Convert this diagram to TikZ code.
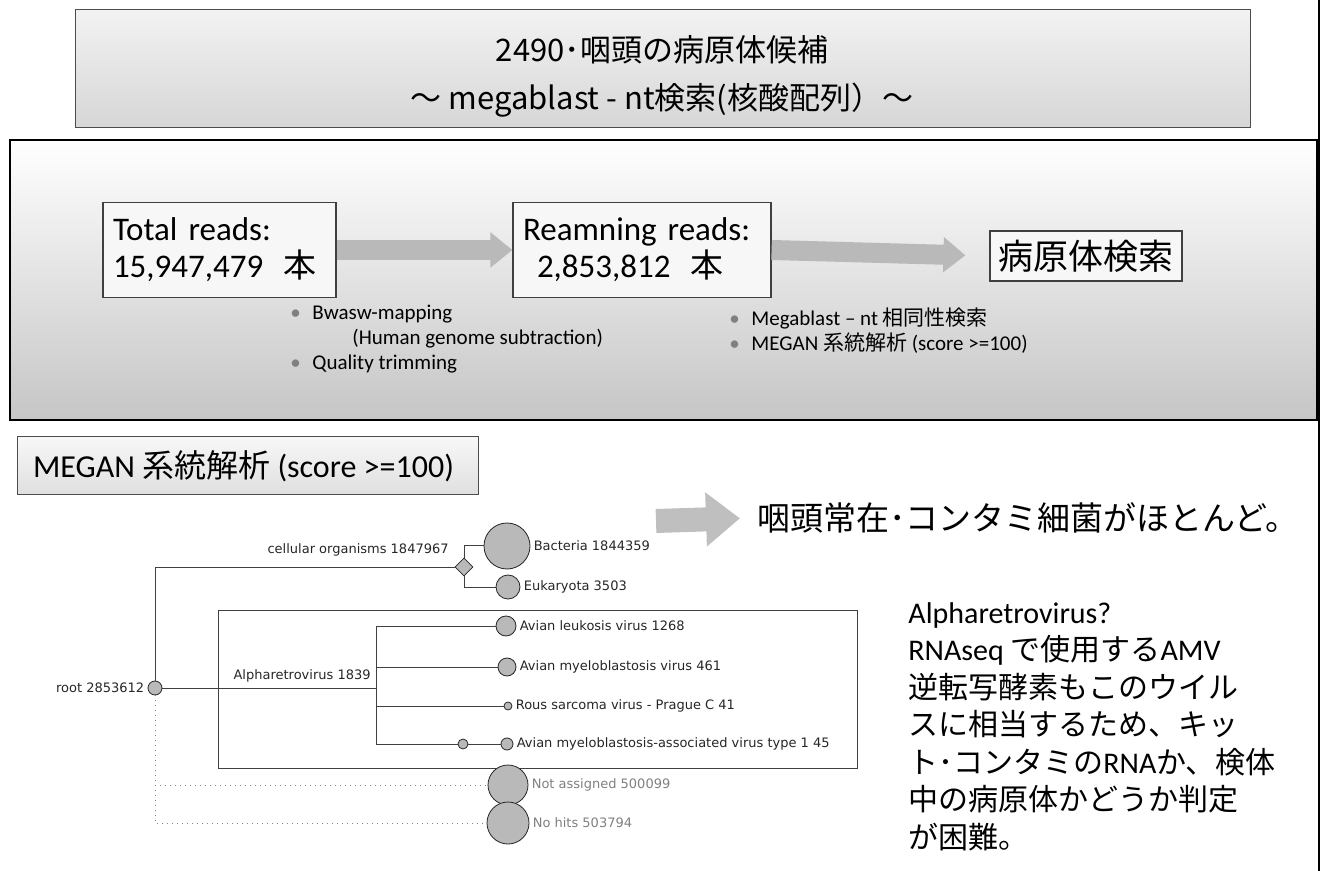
\documentclass[tikz,border=0pt]{standalone}
\usepackage{fontspec}
\setmainfont{Carlito}
\newfontfamily\jpfont{Noto Sans CJK JP}
\newfontfamily\megfont{DejaVu Sans}
\usetikzlibrary{positioning,shapes.geometric,arrows.meta}

\begin{document}
\begin{tikzpicture}[x=0.5pt,y=-0.5pt,
  read_box/.style={draw=black!75,fill=gray!6,line width=0.6pt,inner xsep=5pt,align=left,font=\fontsize{16.5}{18.5}\selectfont},
  fat_arrow/.style={draw=gray!55,line width=10pt,-{Triangle[length=11pt,width=17pt]}},
  big_arrow/.style={draw=gray!50,line width=12pt,-{Triangle[length=17pt,width=26pt]}},
  bullet_list/.style={align=left,inner sep=0pt,font=\fontsize{10.5}{12.5}\selectfont},
  tree_node/.style={circle,fill=gray!55,draw=gray!30!black,line width=0.4pt,inner sep=0pt},
  tree_label/.style={inner sep=1.5pt,text=black!85,font=\megfont\fontsize{6.5}{8}\selectfont},
  tree_edge/.style={draw=black!75,line width=0.5pt},
  void_edge/.style={draw=gray,dotted,line width=0.5pt}]

  \useasboundingbox (0,0) rectangle (1323,871);

  \shadedraw[top color=gray!10,bottom color=gray!32,draw=gray!60!black,line width=0.5pt] (75,10) rectangle (1250,128);
  \node[font=\jpfont\fontsize{15.5}{19}\selectfont] (title_a) at (662,50) {2490･咽頭の病原体候補};
  \node[font=\jpfont\fontsize{15.5}{19}\selectfont] (title_b) at (662,100) {～ megablast - nt検索(核酸配列）～};

  \shade[top color=white,bottom color=gray!45] (10,140) rectangle (1317,420);
  \draw[line width=1.2pt] (10,140) rectangle (1317,420);
  \draw[line width=0.8pt] (1319,0) -- (1319,871);

  \node[read_box,text width=106.5pt,minimum height=47.5pt] (total) at (219.5,250) {Total reads:\\15,947,479\hspace{0.6em}{\jpfont 本}};
  \node[read_box,text width=119pt,minimum height=47.5pt] (remain) at (642,250) {Reamning reads:\\\hspace*{7pt}2,853,812\hspace{0.6em}{\jpfont 本}};
  \node[draw=black!75,fill=gray!6,line width=0.6pt,font=\jpfont\fontsize{17.5}{20}\selectfont,minimum width=96pt,minimum height=25pt] (search) at (1086,256) {病原体検索};
  \draw[fat_arrow] (total.east) -- (remain.west);
  \draw[fat_arrow,shorten >=12pt] (remain.east) -- (search.west);

  \node[bullet_list,anchor=north west] (prep) at (290,305) {\makebox[11pt][l]{\textcolor{gray}{\textbullet}}Bwasw-mapping\\\hspace*{31pt}(Human genome subtraction)\\\makebox[11pt][l]{\textcolor{gray}{\textbullet}}Quality trimming};
  \node[bullet_list,anchor=north west] (steps) at (729,307) {\makebox[11pt][l]{\textcolor{gray}{\textbullet}}Megablast – nt {\jpfont 相同性検索}\\\makebox[11pt][l]{\textcolor{gray}{\textbullet}}MEGAN {\jpfont 系統解析} (score >=100)};

  \shadedraw[top color=gray!6,bottom color=gray!25,draw=gray!60!black,line width=0.5pt] (17,437) rectangle (478,495);
  \node[anchor=west,font=\fontsize{16}{19}\selectfont] (megan) at (26,466) {MEGAN {\jpfont 系統解析} (score >=100)};

  \node[anchor=west,font=\jpfont\fontsize{16.5}{19}\selectfont] (verdict) at (750,518) {咽頭常在･コンタミ細菌がほとんど。};
  \coordinate (verdict_tail) at (656,521);
  \draw[big_arrow,shorten >=5pt] (verdict_tail) -- (verdict.west);

  \node[anchor=north west,align=left,inner sep=0pt,font=\fontsize{15}{18.75}\selectfont] (note) at (908,602) {Alpharetrovirus?\\RNAseq {\jpfont で使用する}AMV\\{\jpfont 逆転写酵素もこのウイル}\\{\jpfont スに相当するため、キッ}\\{\jpfont ト･コンタミの}RNA{\jpfont か、検体}\\{\jpfont 中の病原体かどうか判定}\\{\jpfont が困難。}};

  \draw[tree_edge] (218,610) rectangle (857,768);

  \node[tree_node,minimum size=7pt] (root) at (155,688) {};
  \node[tree_node,diamond,minimum size=9pt] (cell) at (464,567) {};
  \node[tree_node,minimum size=23pt] (bact) at (507,546) {};
  \node[tree_node,minimum size=12pt] (euk) at (508,587) {};
  \coordinate (alpha) at (376,688);
  \node[tree_node,minimum size=10pt] (leuk) at (506,626) {};
  \node[tree_node,minimum size=9pt] (amv) at (507,667) {};
  \node[tree_node,minimum size=4pt] (rsv) at (508,706) {};
  \node[tree_node,minimum size=5pt] (mav_mid) at (463,744) {};
  \node[tree_node,minimum size=6pt] (mav) at (507,744) {};
  \node[tree_node,minimum size=20pt] (nass) at (508,785) {};
  \node[tree_node,minimum size=21pt] (nohit) at (508,823) {};

  \draw[tree_edge] (root) |- (cell);
  \draw[tree_edge] (root) -- (alpha);
  \draw[void_edge] (root) |- (nass);
  \draw[void_edge] (root) |- (nohit);
  \draw[tree_edge] (cell) |- (bact);
  \draw[tree_edge] (cell) |- (euk);
  \draw[tree_edge] (alpha) |- (leuk);
  \draw[tree_edge] (alpha) |- (amv);
  \draw[tree_edge] (alpha) |- (rsv);
  \draw[tree_edge] (alpha) |- (mav_mid);
  \draw[tree_edge] (mav_mid) -- (mav);

  \node[tree_label,anchor=east] (root_label) at (root.west) {root 2853612};
  \node[tree_label,anchor=east] (cell_label) at (452,550) {cellular organisms 1847967};
  \node[tree_label,anchor=south east] (alpha_label) at (374,686) {Alpharetrovirus 1839};
  \node[tree_label,right=0pt of bact] (bact_label) {Bacteria 1844359};
  \node[tree_label,right=0pt of euk] (euk_label) {Eukaryota 3503};
  \node[tree_label,right=0pt of leuk] (leuk_label) {Avian leukosis virus 1268};
  \node[tree_label,right=0pt of amv] (amv_label) {Avian myeloblastosis virus 461};
  \node[tree_label,right=0pt of rsv] (rsv_label) {Rous sarcoma virus - Prague C 41};
  \node[tree_label,right=0pt of mav] (mav_label) {Avian myeloblastosis-associated virus type 1 45};
  \node[tree_label,right=0pt of nass,text=gray] (nass_label) {Not assigned 500099};
  \node[tree_label,right=0pt of nohit,text=gray] (nohit_label) {No hits 503794};

\end{tikzpicture}
\end{document}
